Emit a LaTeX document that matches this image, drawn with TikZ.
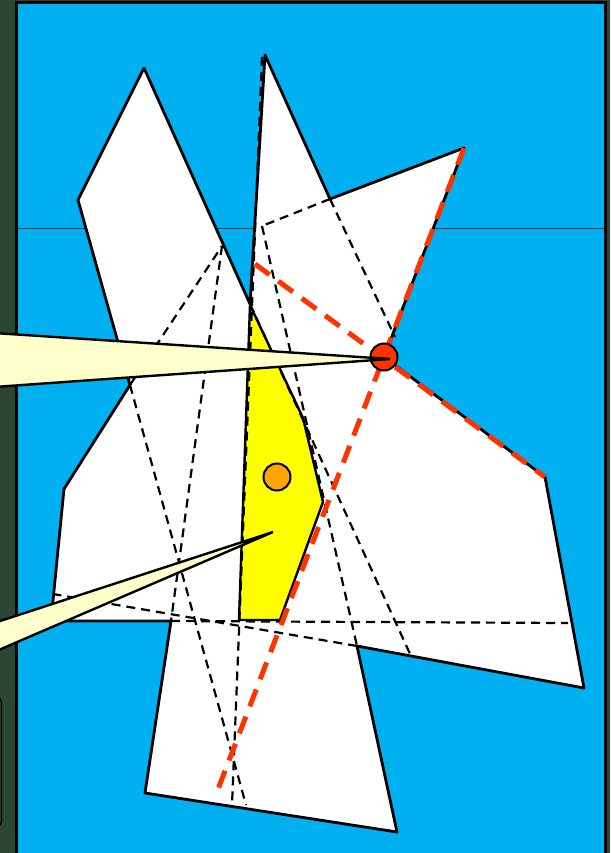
\documentclass[tikz,border=0pt]{standalone}
\usetikzlibrary{calc}
\definecolor{bggreen}{HTML}{2B4733}
\definecolor{skyblue}{HTML}{00B0F0}
\definecolor{kernel}{HTML}{FFFF00}
\definecolor{callout}{HTML}{FFFFCC}
\definecolor{redline}{HTML}{FF3300}
\definecolor{orangept}{HTML}{FFA500}
\tikzset{
  outline/.style={draw=black, line width=2.8pt, line join=round},
  extline/.style={draw=black, line width=2.2pt, dash pattern=on 9pt off 6pt},
  redext/.style={draw=redline, line width=5pt, dash pattern=on 18pt off 11pt},
  calloutshape/.style={fill=callout, draw=black, line width=2.4pt, line join=miter},
  dot/.style={circle, draw=black, line width=2pt, minimum size=27pt, inner sep=0pt}
}
\begin{document}
\begin{tikzpicture}[x=1pt,y=-1pt]
\useasboundingbox (0,0) rectangle (610,853);
% background
\fill[bggreen] (0,0) rectangle (610,853);
\draw[fill=skyblue, line width=3pt] (16,3) rectangle (605,870);
\draw[color=bggreen!80!black, line width=0.9pt] (17.5,228) -- (603.5,228);
\draw[black, line width=1.2pt, rounded corners=4pt] (-20,698) -- (1.5,698) -- (1.5,826) -- (-20,826);
% polygon vertices
\coordinate (P1) at (144,68);
\coordinate (P2) at (250,304);
\coordinate (P3) at (265,55);
\coordinate (P4) at (330,199);
\coordinate (P5) at (464,148);
\coordinate (P6) at (384,357);
\coordinate (P7) at (545,477);
\coordinate (P8) at (584,688);
\coordinate (P9) at (357,646);
\coordinate (P10) at (397,832);
\coordinate (P11) at (145,793);
\coordinate (P12) at (171,621);
\coordinate (P13) at (51,621);
\coordinate (P14) at (64,489);
\coordinate (P15) at (130,385);
\coordinate (P16) at (78,200);
% kernel vertices
\coordinate (Y1) at (250,305);
\coordinate (Y2) at (303,418);
\coordinate (Y3) at (323,502);
\coordinate (Y4) at (280,620);
\coordinate (Y5) at (239,620);
% extension end points
\coordinate (E1) at (246,805);
\coordinate (E2) at (222,246);
\coordinate (E3) at (262,226);
\coordinate (E4) at (395,337);
\coordinate (E5) at (262,57);
\coordinate (E6) at (232,805);
\coordinate (E7) at (568,623);
\coordinate (E8) at (53,594);
\coordinate (E9) at (411,656);
\coordinate (R1) at (215,797);
\coordinate (R2s) at (255,264);
% white polygon
\fill[white] (P1) -- (P2) -- (P3) -- (P4) -- (P5) -- (P6) -- (P7) -- (P8) -- (P9) -- (P10) -- (P11) -- (P12) -- (P13) -- (P14) -- (P15) -- (P16) -- cycle;
% kernel
\draw[fill=kernel, line width=2.4pt, line join=round] (Y1) -- (Y2) -- (Y3) -- (Y4) -- (Y5) -- cycle;
% dashed extensions
\draw[extline] (P15) -- (E1);
\draw[extline] (P15) -- (E2);
\draw[extline] (E2) -- (P12);
\draw[extline] (P4) -- (E3);
\draw[extline] (P4) -- (E4);
\draw[extline] (E3) -- (P9);
\draw[extline] (E5) -- (E6);
\draw[extline] (P12) -- (E7);
\draw[extline] (P9) -- (E8);
\draw[extline] (P2) -- (E9);
% polygon outline
\draw[outline] (P1) -- (P2) -- (P3) -- (P4) -- (P5) -- (P6) -- (P7) -- (P8) -- (P9) -- (P10) -- (P11) -- (P12) -- (P13) -- (P14) -- (P15) -- (P16) -- cycle;
% red extensions through reflex vertex
\draw[redext] (P5) -- (R1);
\draw[redext] (R2s) -- (P7);
% points
\node[dot, fill=redline] (rv) at (P6) {};
\node[dot, fill=orangept] (kp) at (277,477) {};
% callouts
\coordinate (C1t) at (390,359);
\coordinate (C2t) at (273,532);
\draw[calloutshape] (-6,333) -- (C1t) -- (-6,387) -- cycle;
\draw[calloutshape] (-6,623) -- (C2t) -- (-6,652) -- cycle;
\end{tikzpicture}
\end{document}
